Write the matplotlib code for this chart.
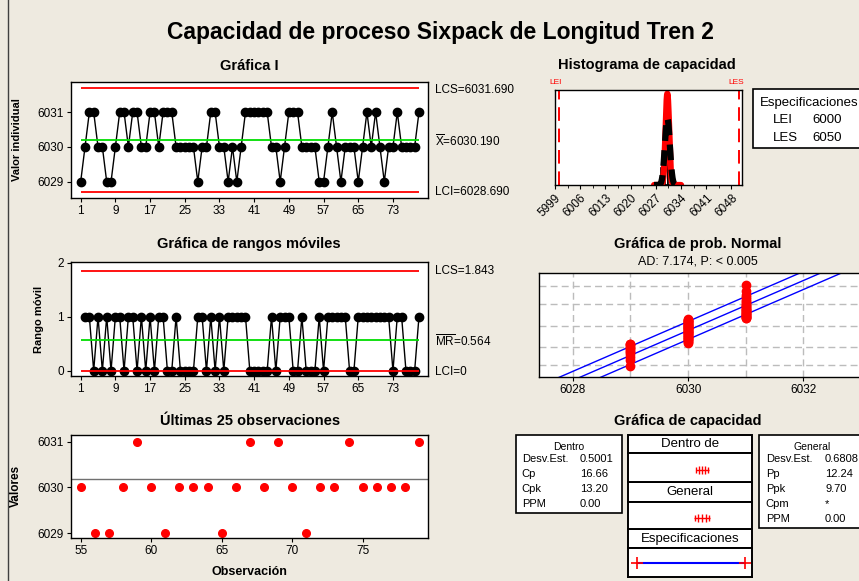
import numpy as np
import matplotlib
matplotlib.use('Agg')
import matplotlib.pyplot as plt
from matplotlib.patches import Rectangle
from statistics import NormalDist

# measurements (Longitud Tren 2), observation order
values = [6029, 6030, 6031, 6031, 6030, 6030, 6029, 6029, 6030, 6031,
          6031, 6030, 6031, 6031, 6030, 6030, 6031, 6031, 6030, 6031,
          6031, 6031, 6030, 6030, 6030, 6030, 6030, 6029, 6030, 6030,
          6031, 6031, 6030, 6030, 6029, 6030, 6029, 6030, 6031, 6031,
          6031, 6031, 6031, 6031, 6030, 6030, 6029, 6030, 6031, 6031,
          6031, 6030, 6030, 6030, 6030, 6029, 6029, 6030, 6031, 6030,
          6029, 6030, 6030, 6030, 6029, 6030, 6031, 6030, 6031, 6030,
          6029, 6030, 6030, 6031, 6030, 6030, 6030, 6030, 6031]

# control limits as reported
i_limits = [6031.690, 6030.190, 6028.690]   # LCS, media, LCI
mr_limits = [1.843, 0.564, 0.0]
spec_limits = [6000, 6050]
sd_within = 0.5001
sd_overall = 0.6808

within_rows = [('Desv.Est.', '0.5001'), ('Cp', '16.66'), ('Cpk', '13.20'), ('PPM', '0.00')]
overall_rows = [('Desv.Est.', '0.6808'), ('Pp', '12.24'), ('Ppk', '9.70'), ('Cpm', '*'), ('PPM', '0.00')]

W, H = 859, 581
BG = '#eeeae0'
plt.rcParams['font.family'] = ['Liberation Sans', 'DejaVu Sans']

fig = plt.figure(figsize=(W / 100, H / 100), dpi=100, facecolor=BG)


def px_axes(l, t, r, b):
    return fig.add_axes([l / W, 1 - b / H, (r - l) / W, (b - t) / H])


def ftext(x, y, s, **kw):
    kw.setdefault('ha', 'center')
    kw.setdefault('va', 'center')
    fig.text(x / W, 1 - y / H, s, **kw)


def style(ax):
    ax.set_facecolor('white')
    for sp in ax.spines.values():
        sp.set_color('black')
        sp.set_linewidth(1.0)
    ax.tick_params(direction='out', length=3, width=0.8, labelsize=8.5, pad=2)


# overlay for boxes / frame
over = fig.add_axes([0, 0, 1, 1])
over.set_xlim(0, W)
over.set_ylim(H, 0)
over.axis('off')
over.plot([8, 8], [0, H], color='#404040', lw=1)

ftext(440, 33, 'Capacidad de proceso Sixpack de Longitud Tren 2', fontsize=16.5, fontweight='bold')

obs = np.arange(1, len(values) + 1)
mean = i_limits[1]

# ---- Gráfica I
ax1 = px_axes(70.7, 82.3, 428.3, 197.7)
style(ax1)
ax1.plot(obs, values, '-o', color='black', ms=6, lw=1)
ax1.hlines([i_limits[0], i_limits[2]], 1, len(values), colors='red', lw=1.3)
ax1.hlines(i_limits[1], 1, len(values), colors='#00dd00', lw=1.3)
ax1.set_xlim(-1.3, 81.15)
ax1.set_ylim(6028.54, 6031.86)
ax1.set_xticks(np.arange(1, 80, 8))
ax1.set_yticks([6029, 6030, 6031])
ax1.set_ylabel('Valor individual', fontsize=8, fontweight='bold')
ax1.yaxis.set_label_coords((22 - 70.7) / 357.6, 0.5)
ftext(249, 66, 'Gráfica I', fontsize=10.5, fontweight='bold')
ftext(435, 90, 'LCS=6031.690', fontsize=8.5, ha='left')
ftext(435, 141, r'$\overline{\mathregular{X}}$=6030.190', fontsize=8.5, ha='left')
ftext(435, 192, 'LCI=6028.690', fontsize=8.5, ha='left')

# ---- Gráfica de rangos móviles
mr = np.abs(np.diff(values))
ax2 = px_axes(70.7, 262.3, 428.3, 375.7)
style(ax2)
ax2.plot(obs[1:], mr, '-o', color='black', ms=6, lw=1)
ax2.hlines([mr_limits[0], mr_limits[2]], 1, len(values), colors='red', lw=1.3)
ax2.hlines(mr_limits[1], 1, len(values), colors='#00dd00', lw=1.3)
ax2.set_xlim(-1.3, 81.15)
ax2.set_ylim(-0.09, 2.005)
ax2.set_xticks(np.arange(1, 80, 8))
ax2.set_yticks([0, 1, 2])
ax2.set_ylabel('Rango móvil', fontsize=8, fontweight='bold')
ax2.yaxis.set_label_coords((44 - 70.7) / 357.6, 0.5)
ftext(249, 244, 'Gráfica de rangos móviles', fontsize=10.5, fontweight='bold')
ftext(435, 271, 'LCS=1.843', fontsize=8.5, ha='left')
ftext(435, 341, r'$\overline{\mathregular{MR}}$=0.564', fontsize=8.5, ha='left')
ftext(435, 372, 'LCI=0', fontsize=8.5, ha='left')

# ---- Últimas 25 observaciones
ax3 = px_axes(71, 435, 428.3, 537.7)
style(ax3)
ax3.axhline(mean, color='#707070', lw=1)
ax3.plot(obs[-25:], values[-25:], 'o', color='red', ms=5.5, ls='none')
ax3.set_xlim(54.31, 79.66)
ax3.set_ylim(6028.9, 6031.146)
ax3.set_xticks([55, 60, 65, 70, 75])
ax3.set_yticks([6029, 6030, 6031])
ax3.set_ylabel('Valores', fontsize=8.5, fontweight='bold')
ax3.yaxis.set_label_coords((22 - 71) / 357.3, 0.5)
ax3.set_xlabel('Observación', fontsize=9, fontweight='bold')
ax3.xaxis.set_label_coords(0.5, -(566 - 537.7) / 102.7)
ftext(250, 421, 'Últimas 25 observaciones', fontsize=10.5, fontweight='bold')

# ---- Histograma de capacidad
axh = px_axes(555, 90, 742.3, 185)
style(axh)
axh.hist(values, bins=[6028.5, 6029.5, 6030.5, 6031.5], density=True,
         facecolor='white', edgecolor='black', lw=1.2)
xx = np.linspace(6026.5, 6034, 400)
for sd, col, ls in [(sd_within, 'red', '-'), (sd_overall, 'black', (0, (2.5, 1.5)))]:
    pdf = np.exp(-0.5 * ((xx - mean) / sd) ** 2) / (sd * np.sqrt(2 * np.pi))
    axh.plot(xx, pdf, color=col, lw=4.5, ls=ls, solid_capstyle='round')
axh.vlines(spec_limits, 0, 1, colors='red', lw=1.4, linestyles=[(0, (7, 4))])
axh.set_xlim(5999, 6051)
axh.set_ylim(0, 0.83)
axh.set_yticks([])
axh.set_xticks(np.arange(5999, 6049, 7))
axh.set_xticks(np.arange(6002.5, 6051, 7), minor=True)
axh.tick_params(which='minor', length=2)
plt.setp(axh.get_xticklabels(), rotation=45, ha='right', rotation_mode='anchor')
ftext(647, 65, 'Histograma de capacidad', fontsize=10.5, fontweight='bold')
ftext(556, 83, 'LEI', fontsize=6, color='red')
ftext(736, 83, 'LES', fontsize=6, color='red')

over.add_patch(Rectangle((752.7, 89.3), 130, 59, facecolor='white', edgecolor='black', lw=1.2))
ftext(760, 103, 'Especificaciones', fontsize=9.5, ha='left')
ftext(773, 120, 'LEI', fontsize=9.5, ha='left')
ftext(812.7, 120, str(spec_limits[0]), fontsize=9.5, ha='left')
ftext(773, 138, 'LES', fontsize=9.5, ha='left')
ftext(812.7, 138, str(spec_limits[1]), fontsize=9.5, ha='left')

# ---- Gráfica de prob. Normal
n = len(values)
xs = np.sort(values)
zs = [NormalDist().inv_cdf((i - 0.3) / (n + 0.4)) for i in range(1, n + 1)]
axp = px_axes(539.3, 273.3, 890, 376.7)
style(axp)
zq = [NormalDist().inv_cdf(p) for p in [0.01, 0.10, 0.50, 0.90, 0.99]]
axp.set_xlim(6027.42, 6033.5)
axp.set_ylim(-3.0, 3.08)
axp.set_xticks([6028, 6030, 6032])
axp.set_xticks([6029, 6031, 6033], minor=True)
axp.set_yticks(zq)
axp.set_yticklabels([])
axp.tick_params(axis='y', length=0)
axp.tick_params(axis='x', which='minor', length=0)
axp.grid(True, which='both', color='#bcbcbc', ls=(0, (5, 3)), lw=1)
axp.set_axisbelow(True)
zl = np.array([-3.2, 3.2])
fit = mean + sd_overall * zl
axp.plot(fit, zl, color='blue', lw=1)
axp.plot(fit - 0.36, zl, color='blue', lw=1)
axp.plot(fit + 0.36, zl, color='blue', lw=1)
axp.plot(xs, zs, 'o', color='red', ms=6, ls='none')
ftext(698, 244, 'Gráfica de prob. Normal', fontsize=10.5, fontweight='bold')
ftext(698, 261.7, 'AD: 7.174, P: < 0.005', fontsize=9)

# ---- Gráfica de capacidad
ftext(688, 421, 'Gráfica de capacidad', fontsize=10.5, fontweight='bold')

over.add_patch(Rectangle((515.7, 435), 106, 77.7, facecolor='white', edgecolor='black', lw=1.2))
ftext(568.7, 446.7, 'Dentro', fontsize=7.5)
for k, (lab, val) in enumerate(within_rows):
    y = 459.3 + k * 15
    ftext(521.7, y, lab, fontsize=8, ha='left')
    ftext(580, y, val, fontsize=8, ha='left')

over.add_patch(Rectangle((759, 435), 125, 93.3, facecolor='white', edgecolor='black', lw=1.2))
ftext(812, 446.7, 'General', fontsize=7.5)
for k, (lab, val) in enumerate(overall_rows):
    y = 459.3 + k * 14.9
    ftext(765.7, y, lab, fontsize=8, ha='left')
    ftext(825, y, val, fontsize=8, ha='left')

headers = [('Dentro de', 435, 452.7), ('General', 481.7, 501.7), ('Especificaciones', 529, 548.3)]
for lab, t, b in headers:
    over.add_patch(Rectangle((628.3, t), 124, b - t, facecolor='white', edgecolor='black', lw=1.4))
    ftext(690.3, (t + b) / 2 + 0.5, lab, fontsize=9.5)


def cap_axes(t, b):
    ax = px_axes(628.3, t, 752.3, b)
    ax.set_facecolor('white')
    for sp in ax.spines.values():
        sp.set_linewidth(1.4)
    ax.set_xlim(5996.1, 6053.4)
    ax.set_ylim(0, 1)
    ax.set_xticks([])
    ax.set_yticks([])
    return ax


for (t, b), sd in [((452.7, 481.7), sd_within), ((501.7, 529), sd_overall)]:
    ax = cap_axes(t, b)
    ends = [mean - 3 * sd, mean, mean + 3 * sd]
    ax.hlines(0.4, ends[0] - 1.5, ends[2] + 1.5, colors='red', lw=1)
    ax.plot(ends, [0.4] * 3, '|', color='red', ms=6, mew=1)
    ax.plot([ends[0] - 1.2, ends[2] + 1.2], [0.4] * 2, '|', color='red', ms=5, mew=1)

axs = cap_axes(548.3, 576.7)
axs.hlines(0.5, spec_limits[0], spec_limits[1], colors='blue', lw=1.5)
axs.plot(spec_limits, [0.5, 0.5], '+', color='red', ms=8, mew=1.2)

fig.savefig('out.png', dpi=100, facecolor=BG)
